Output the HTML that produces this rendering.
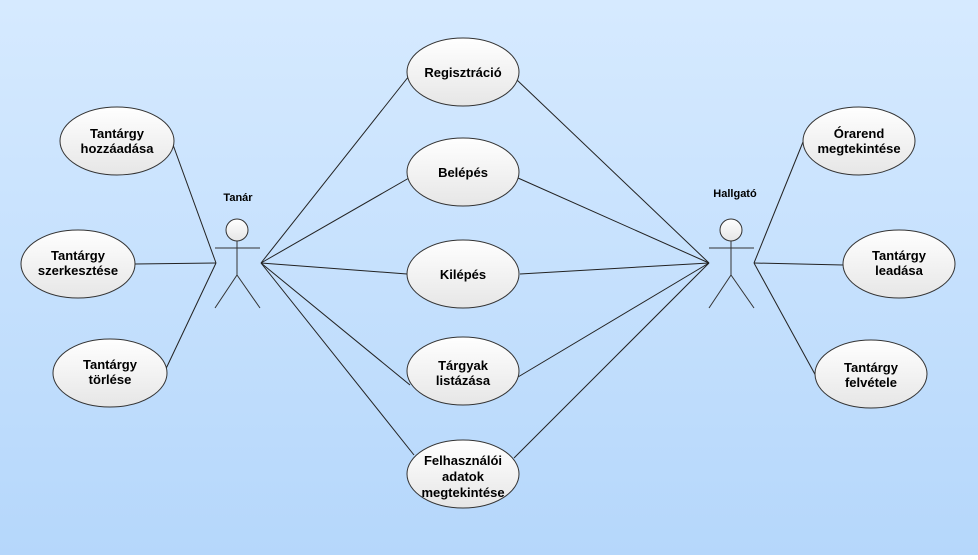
<!DOCTYPE html>
<html><head><meta charset="utf-8"><style>
html,body{margin:0;padding:0;}
body{width:978px;height:555px;overflow:hidden;}
text{font-family:"Liberation Sans",sans-serif;font-weight:bold;font-size:13px;fill:#000;}
.s{font-size:11px;}
</style></head><body>
<svg width="978" height="555" xmlns="http://www.w3.org/2000/svg">
<defs>
<linearGradient id="bg" x1="0" y1="0" x2="0" y2="1"><stop offset="0" stop-color="#d6eaff"/><stop offset="1" stop-color="#b5d7fb"/></linearGradient>
<linearGradient id="el" x1="0" y1="0" x2="0" y2="1"><stop offset="0" stop-color="#ffffff"/><stop offset="1" stop-color="#e6e6e6"/></linearGradient>
</defs>
<rect width="978" height="555" fill="url(#bg)"/>
<g stroke="#222" stroke-width="1" fill="none">
<line x1="261" y1="263" x2="409" y2="76"/>
<line x1="261" y1="263" x2="409" y2="178"/>
<line x1="261" y1="263" x2="407" y2="274"/>
<line x1="261" y1="263" x2="410" y2="385"/>
<line x1="261" y1="263" x2="414" y2="455"/>
<line x1="216" y1="263" x2="172" y2="142"/>
<line x1="216" y1="263" x2="135" y2="264"/>
<line x1="216" y1="263" x2="163" y2="375"/>
<line x1="709" y1="263" x2="517" y2="80"/>
<line x1="709" y1="263" x2="518" y2="178"/>
<line x1="709" y1="263" x2="520" y2="274"/>
<line x1="709" y1="263" x2="518" y2="377"/>
<line x1="709" y1="263" x2="514" y2="458"/>
<line x1="754" y1="263" x2="803" y2="142"/>
<line x1="754" y1="263" x2="843" y2="265"/>
<line x1="754" y1="263" x2="817" y2="378"/>
</g>
<g stroke="#333" stroke-width="1">
<circle cx="237" cy="230" r="11" fill="url(#el)"/>
<line x1="215" y1="248" x2="260" y2="248"/>
<line x1="237" y1="241" x2="237" y2="275"/>
<line x1="237" y1="275" x2="215" y2="308"/>
<line x1="237" y1="275" x2="260" y2="308"/>
<circle cx="731" cy="230" r="11" fill="url(#el)"/>
<line x1="709" y1="248" x2="754" y2="248"/>
<line x1="731" y1="241" x2="731" y2="275"/>
<line x1="731" y1="275" x2="709" y2="308"/>
<line x1="731" y1="275" x2="754" y2="308"/>
</g>
<text class="s" x="238" y="201" text-anchor="middle">Tanár</text>
<text class="s" x="735" y="197" text-anchor="middle">Hallgató</text>
<g stroke="#333" stroke-width="1" fill="url(#el)">
<ellipse cx="463" cy="72" rx="56" ry="34"/>
<ellipse cx="463" cy="172" rx="56" ry="34"/>
<ellipse cx="463" cy="274" rx="56" ry="34"/>
<ellipse cx="463" cy="371" rx="56" ry="34"/>
<ellipse cx="463" cy="474" rx="56" ry="34"/>
<ellipse cx="117" cy="141" rx="57" ry="34"/>
<ellipse cx="78" cy="264" rx="57" ry="34"/>
<ellipse cx="110" cy="373" rx="57" ry="34"/>
<ellipse cx="859" cy="141" rx="56" ry="34"/>
<ellipse cx="899" cy="264" rx="56" ry="34"/>
<ellipse cx="871" cy="374" rx="56" ry="34"/>
</g>
<g text-anchor="middle">
<text x="463" y="77">Regisztráció</text>
<text x="463" y="177">Belépés</text>
<text x="463" y="279">Kilépés</text>
<text x="463" y="370">Tárgyak</text><text x="463" y="385">listázása</text>
<text x="463" y="465">Felhasználói</text><text x="463" y="481">adatok</text><text x="463" y="497">megtekintése</text>
<text x="117" y="138">Tantárgy</text><text x="117" y="153">hozzáadása</text>
<text x="78" y="260">Tantárgy</text><text x="78" y="275">szerkesztése</text>
<text x="110" y="369">Tantárgy</text><text x="110" y="384">törlése</text>
<text x="859" y="138">Órarend</text><text x="859" y="153">megtekintése</text>
<text x="899" y="260">Tantárgy</text><text x="899" y="275">leadása</text>
<text x="871" y="372">Tantárgy</text><text x="871" y="387">felvétele</text>
</g>
</svg>
</body></html>
